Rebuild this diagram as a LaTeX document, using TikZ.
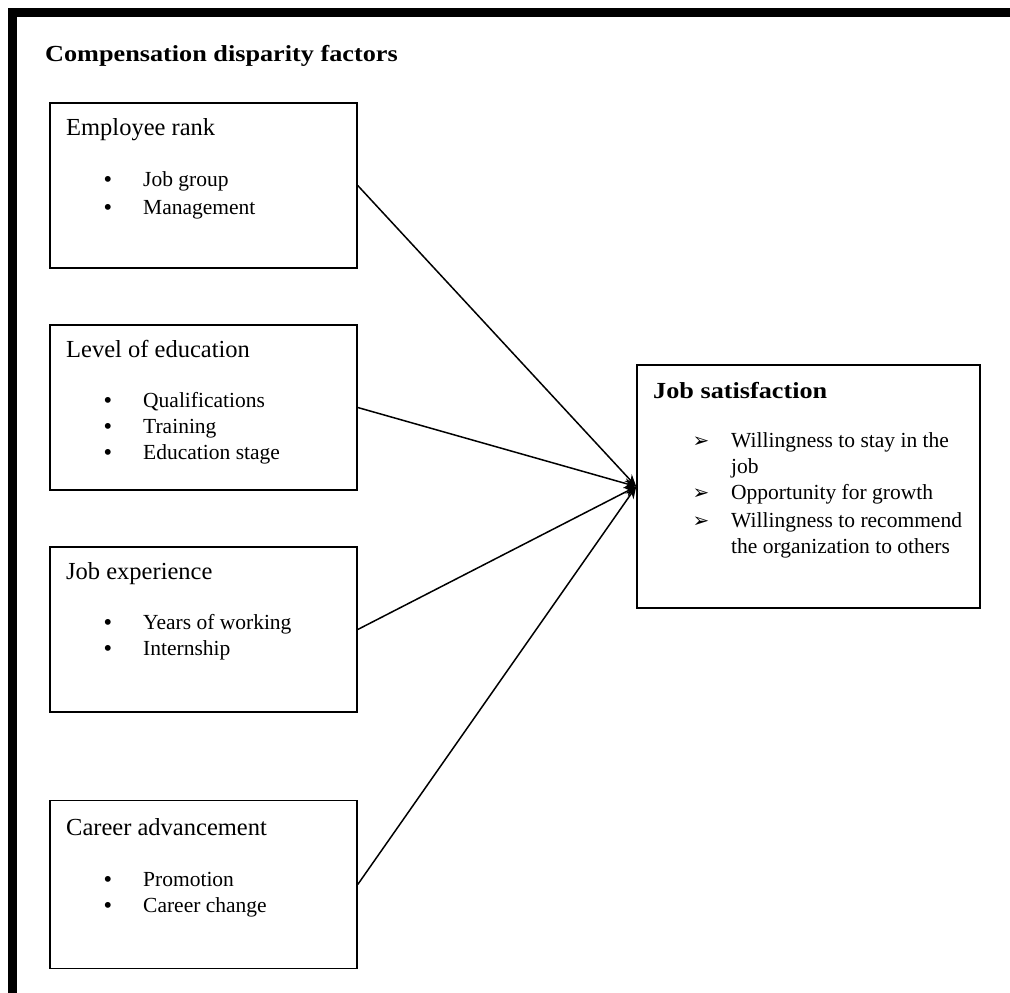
\documentclass[tikz,border=0pt]{standalone}
\usepackage{fontspec}
\setmainfont{Liberation Serif}
\newfontfamily\widebold[FakeStretch=1.14]{Liberation Serif Bold}
\newfontfamily\dejavu{DejaVu Sans}
\usetikzlibrary{arrows.meta}
\tikzset{
  box/.style={draw, line width=1.5pt, minimum width=307pt, minimum height=165pt, inner sep=0pt},
  head/.style={anchor=base west, inner sep=0pt, font=\fontsize{24.5}{26}\selectfont},
  item/.style={anchor=base west, inner sep=0pt, font=\fontsize{21.5}{24}\selectfont},
  bul/.style={anchor=base, inner sep=0pt, font=\bfseries\fontsize{21.5}{24}\selectfont},
  arr/.style={anchor=base, inner sep=0pt, font=\dejavu\bfseries\fontsize{20}{22}\selectfont},
  conn/.style={line width=1.5pt, -{Stealth[length=12pt,width=10pt]}}
}
\begin{document}
\begin{tikzpicture}[x=1pt,y=-1pt]
\useasboundingbox (0,0) rectangle (1010,993);
\draw[line width=9pt] (12.5,993) -- (12.5,12.5) -- (1010,12.5);
\node[anchor=base west, inner sep=0pt, font=\widebold\fontsize{23}{26}\selectfont] (title) at (45,61) {Compensation disparity factors};
% boxes
\node[box] (b1) at (203.5,185.5) {};
\node[box] (b2) at (203.5,407.5) {};
\node[box] (b3) at (203.5,629.5) {};
\node[box, minimum height=168pt] (b4) at (203.5,884.5) {};
\node[draw, line width=1.5pt, minimum width=343pt, minimum height=243pt, inner sep=0pt] (js) at (808.5,486.5) {};
% box 1
\node[head] (h1) at (66,135) {Employee rank};
\node[bul] (u11) at (108,186) {•}; \node[item] (i11) at (143,186) {Job group};
\node[bul] (u12) at (108,214) {•}; \node[item] (i12) at (143,214) {Management};
% box 2
\node[head] (h2) at (66,357) {Level of education};
\node[bul] (u21) at (108,407) {•}; \node[item] (i21) at (143,407) {Qualifications};
\node[bul] (u22) at (108,433) {•}; \node[item] (i22) at (143,433) {Training};
\node[bul] (u23) at (108,459) {•}; \node[item] (i23) at (143,459) {Education stage};
% box 3
\node[head] (h3) at (66,579) {Job experience};
\node[bul] (u31) at (108,629) {•}; \node[item] (i31) at (143,629) {Years of working};
\node[bul] (u32) at (108,655) {•}; \node[item] (i32) at (143,655) {Internship};
% box 4
\node[head] (h4) at (66,835) {Career advancement};
\node[bul] (u41) at (108,886) {•}; \node[item] (i41) at (143,886) {Promotion};
\node[bul] (u42) at (108,912) {•}; \node[item] (i42) at (143,912) {Career change};
% right box
\node[anchor=base west, inner sep=0pt, font=\widebold\fontsize{23}{26}\selectfont] (hj) at (653,398) {Job satisfaction};
\node[arr] (a1) at (701,447) {➢};
\node[item] (j1) at (731,447) {Willingness to stay in the};
\node[item] (j1b) at (731,473) {job};
\node[arr] (a2) at (701,499) {➢};
\node[item] (j2) at (731,499) {Opportunity for growth};
\node[arr] (a3) at (701,527) {➢};
\node[item] (j3) at (731,527) {Willingness to recommend};
\node[item] (j3b) at (731,553) {the organization to others};
% connectors
\draw[conn] (b1.east) -- (js.west);
\draw[conn] (b2.east) -- (js.west);
\draw[conn] (b3.east) -- (js.west);
\draw[conn] (b4.east) -- (js.west);
\end{tikzpicture}
\end{document}
